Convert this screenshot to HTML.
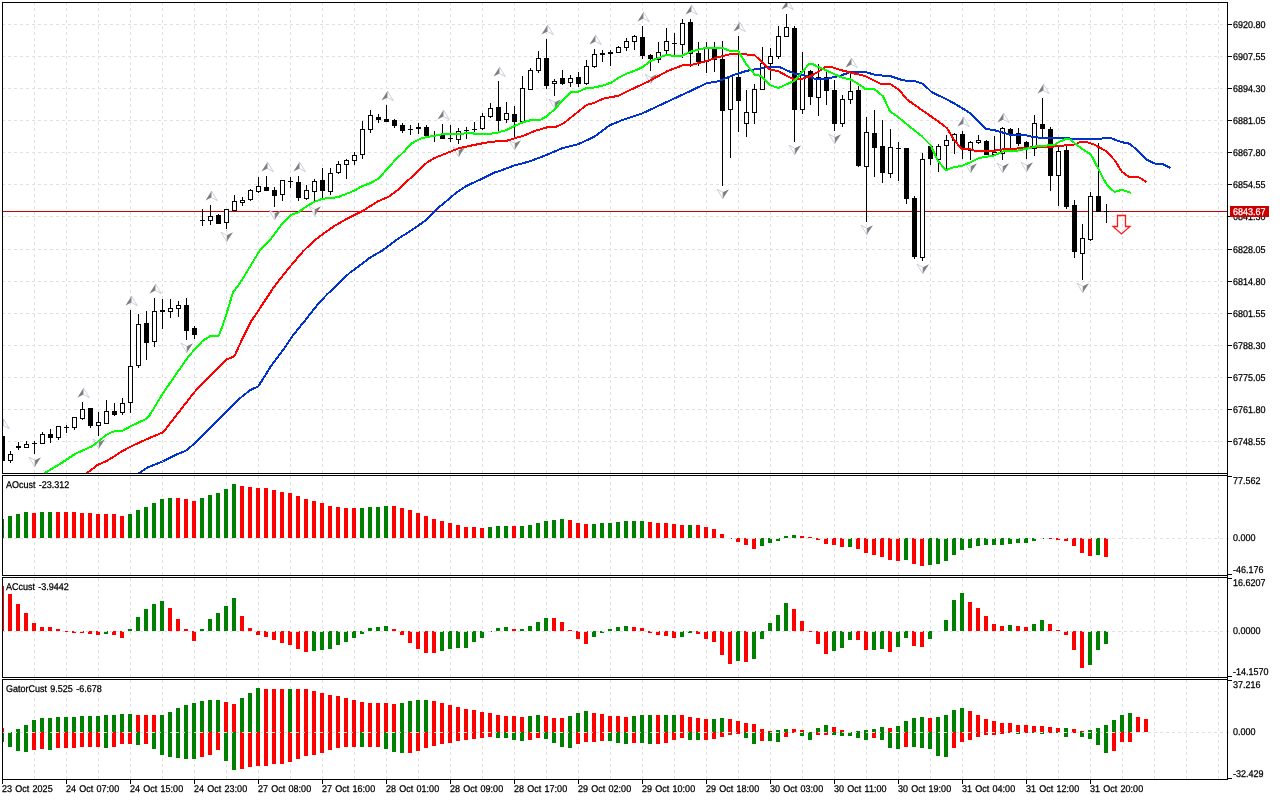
<!DOCTYPE html><html><head><meta charset="utf-8"><title>Chart</title><style>html,body{margin:0;padding:0;background:#fff;overflow:hidden}svg{display:block}text{font-family:"Liberation Sans",Arial,sans-serif;font-size:9px;fill:#000;stroke:#000;stroke-width:0.25px;word-spacing:0.8px;text-rendering:geometricPrecision}</style></head><body>
<svg width="1280" height="800" viewBox="0 0 1280 800">
<rect width="1280" height="800" fill="#fff"/>
<g shape-rendering="crispEdges" stroke="#e1e1e1" stroke-width="1" stroke-dasharray="3 3" fill="none">
<path d="M34.5 3V473" stroke-dashoffset="1"/>
<path d="M66.5 3V473" stroke-dashoffset="1"/>
<path d="M98.5 3V473" stroke-dashoffset="1"/>
<path d="M130.5 3V473" stroke-dashoffset="1"/>
<path d="M162.5 3V473" stroke-dashoffset="1"/>
<path d="M194.5 3V473" stroke-dashoffset="1"/>
<path d="M226.5 3V473" stroke-dashoffset="1"/>
<path d="M258.5 3V473" stroke-dashoffset="1"/>
<path d="M290.5 3V473" stroke-dashoffset="1"/>
<path d="M322.5 3V473" stroke-dashoffset="1"/>
<path d="M354.5 3V473" stroke-dashoffset="1"/>
<path d="M386.5 3V473" stroke-dashoffset="1"/>
<path d="M418.5 3V473" stroke-dashoffset="1"/>
<path d="M450.5 3V473" stroke-dashoffset="1"/>
<path d="M482.5 3V473" stroke-dashoffset="1"/>
<path d="M514.5 3V473" stroke-dashoffset="1"/>
<path d="M546.5 3V473" stroke-dashoffset="1"/>
<path d="M578.5 3V473" stroke-dashoffset="1"/>
<path d="M610.5 3V473" stroke-dashoffset="1"/>
<path d="M642.5 3V473" stroke-dashoffset="1"/>
<path d="M674.5 3V473" stroke-dashoffset="1"/>
<path d="M706.5 3V473" stroke-dashoffset="1"/>
<path d="M738.5 3V473" stroke-dashoffset="1"/>
<path d="M770.5 3V473" stroke-dashoffset="1"/>
<path d="M802.5 3V473" stroke-dashoffset="1"/>
<path d="M834.5 3V473" stroke-dashoffset="1"/>
<path d="M866.5 3V473" stroke-dashoffset="1"/>
<path d="M898.5 3V473" stroke-dashoffset="1"/>
<path d="M930.5 3V473" stroke-dashoffset="1"/>
<path d="M962.5 3V473" stroke-dashoffset="1"/>
<path d="M994.5 3V473" stroke-dashoffset="1"/>
<path d="M1026.5 3V473" stroke-dashoffset="1"/>
<path d="M1058.5 3V473" stroke-dashoffset="1"/>
<path d="M1090.5 3V473" stroke-dashoffset="1"/>
<path d="M1122.5 3V473" stroke-dashoffset="1"/>
<path d="M1154.5 3V473" stroke-dashoffset="1"/>
<path d="M1186.5 3V473" stroke-dashoffset="1"/>
<path d="M1218.5 3V473" stroke-dashoffset="1"/>
<path d="M34.5 476V575" stroke-dashoffset="0"/>
<path d="M66.5 476V575" stroke-dashoffset="0"/>
<path d="M98.5 476V575" stroke-dashoffset="0"/>
<path d="M130.5 476V575" stroke-dashoffset="0"/>
<path d="M162.5 476V575" stroke-dashoffset="0"/>
<path d="M194.5 476V575" stroke-dashoffset="0"/>
<path d="M226.5 476V575" stroke-dashoffset="0"/>
<path d="M258.5 476V575" stroke-dashoffset="0"/>
<path d="M290.5 476V575" stroke-dashoffset="0"/>
<path d="M322.5 476V575" stroke-dashoffset="0"/>
<path d="M354.5 476V575" stroke-dashoffset="0"/>
<path d="M386.5 476V575" stroke-dashoffset="0"/>
<path d="M418.5 476V575" stroke-dashoffset="0"/>
<path d="M450.5 476V575" stroke-dashoffset="0"/>
<path d="M482.5 476V575" stroke-dashoffset="0"/>
<path d="M514.5 476V575" stroke-dashoffset="0"/>
<path d="M546.5 476V575" stroke-dashoffset="0"/>
<path d="M578.5 476V575" stroke-dashoffset="0"/>
<path d="M610.5 476V575" stroke-dashoffset="0"/>
<path d="M642.5 476V575" stroke-dashoffset="0"/>
<path d="M674.5 476V575" stroke-dashoffset="0"/>
<path d="M706.5 476V575" stroke-dashoffset="0"/>
<path d="M738.5 476V575" stroke-dashoffset="0"/>
<path d="M770.5 476V575" stroke-dashoffset="0"/>
<path d="M802.5 476V575" stroke-dashoffset="0"/>
<path d="M834.5 476V575" stroke-dashoffset="0"/>
<path d="M866.5 476V575" stroke-dashoffset="0"/>
<path d="M898.5 476V575" stroke-dashoffset="0"/>
<path d="M930.5 476V575" stroke-dashoffset="0"/>
<path d="M962.5 476V575" stroke-dashoffset="0"/>
<path d="M994.5 476V575" stroke-dashoffset="0"/>
<path d="M1026.5 476V575" stroke-dashoffset="0"/>
<path d="M1058.5 476V575" stroke-dashoffset="0"/>
<path d="M1090.5 476V575" stroke-dashoffset="0"/>
<path d="M1122.5 476V575" stroke-dashoffset="0"/>
<path d="M1154.5 476V575" stroke-dashoffset="0"/>
<path d="M1186.5 476V575" stroke-dashoffset="0"/>
<path d="M1218.5 476V575" stroke-dashoffset="0"/>
<path d="M34.5 578V677" stroke-dashoffset="0"/>
<path d="M66.5 578V677" stroke-dashoffset="0"/>
<path d="M98.5 578V677" stroke-dashoffset="0"/>
<path d="M130.5 578V677" stroke-dashoffset="0"/>
<path d="M162.5 578V677" stroke-dashoffset="0"/>
<path d="M194.5 578V677" stroke-dashoffset="0"/>
<path d="M226.5 578V677" stroke-dashoffset="0"/>
<path d="M258.5 578V677" stroke-dashoffset="0"/>
<path d="M290.5 578V677" stroke-dashoffset="0"/>
<path d="M322.5 578V677" stroke-dashoffset="0"/>
<path d="M354.5 578V677" stroke-dashoffset="0"/>
<path d="M386.5 578V677" stroke-dashoffset="0"/>
<path d="M418.5 578V677" stroke-dashoffset="0"/>
<path d="M450.5 578V677" stroke-dashoffset="0"/>
<path d="M482.5 578V677" stroke-dashoffset="0"/>
<path d="M514.5 578V677" stroke-dashoffset="0"/>
<path d="M546.5 578V677" stroke-dashoffset="0"/>
<path d="M578.5 578V677" stroke-dashoffset="0"/>
<path d="M610.5 578V677" stroke-dashoffset="0"/>
<path d="M642.5 578V677" stroke-dashoffset="0"/>
<path d="M674.5 578V677" stroke-dashoffset="0"/>
<path d="M706.5 578V677" stroke-dashoffset="0"/>
<path d="M738.5 578V677" stroke-dashoffset="0"/>
<path d="M770.5 578V677" stroke-dashoffset="0"/>
<path d="M802.5 578V677" stroke-dashoffset="0"/>
<path d="M834.5 578V677" stroke-dashoffset="0"/>
<path d="M866.5 578V677" stroke-dashoffset="0"/>
<path d="M898.5 578V677" stroke-dashoffset="0"/>
<path d="M930.5 578V677" stroke-dashoffset="0"/>
<path d="M962.5 578V677" stroke-dashoffset="0"/>
<path d="M994.5 578V677" stroke-dashoffset="0"/>
<path d="M1026.5 578V677" stroke-dashoffset="0"/>
<path d="M1058.5 578V677" stroke-dashoffset="0"/>
<path d="M1090.5 578V677" stroke-dashoffset="0"/>
<path d="M1122.5 578V677" stroke-dashoffset="0"/>
<path d="M1154.5 578V677" stroke-dashoffset="0"/>
<path d="M1186.5 578V677" stroke-dashoffset="0"/>
<path d="M1218.5 578V677" stroke-dashoffset="0"/>
<path d="M34.5 680V779" stroke-dashoffset="0"/>
<path d="M66.5 680V779" stroke-dashoffset="0"/>
<path d="M98.5 680V779" stroke-dashoffset="0"/>
<path d="M130.5 680V779" stroke-dashoffset="0"/>
<path d="M162.5 680V779" stroke-dashoffset="0"/>
<path d="M194.5 680V779" stroke-dashoffset="0"/>
<path d="M226.5 680V779" stroke-dashoffset="0"/>
<path d="M258.5 680V779" stroke-dashoffset="0"/>
<path d="M290.5 680V779" stroke-dashoffset="0"/>
<path d="M322.5 680V779" stroke-dashoffset="0"/>
<path d="M354.5 680V779" stroke-dashoffset="0"/>
<path d="M386.5 680V779" stroke-dashoffset="0"/>
<path d="M418.5 680V779" stroke-dashoffset="0"/>
<path d="M450.5 680V779" stroke-dashoffset="0"/>
<path d="M482.5 680V779" stroke-dashoffset="0"/>
<path d="M514.5 680V779" stroke-dashoffset="0"/>
<path d="M546.5 680V779" stroke-dashoffset="0"/>
<path d="M578.5 680V779" stroke-dashoffset="0"/>
<path d="M610.5 680V779" stroke-dashoffset="0"/>
<path d="M642.5 680V779" stroke-dashoffset="0"/>
<path d="M674.5 680V779" stroke-dashoffset="0"/>
<path d="M706.5 680V779" stroke-dashoffset="0"/>
<path d="M738.5 680V779" stroke-dashoffset="0"/>
<path d="M770.5 680V779" stroke-dashoffset="0"/>
<path d="M802.5 680V779" stroke-dashoffset="0"/>
<path d="M834.5 680V779" stroke-dashoffset="0"/>
<path d="M866.5 680V779" stroke-dashoffset="0"/>
<path d="M898.5 680V779" stroke-dashoffset="0"/>
<path d="M930.5 680V779" stroke-dashoffset="0"/>
<path d="M962.5 680V779" stroke-dashoffset="0"/>
<path d="M994.5 680V779" stroke-dashoffset="0"/>
<path d="M1026.5 680V779" stroke-dashoffset="0"/>
<path d="M1058.5 680V779" stroke-dashoffset="0"/>
<path d="M1090.5 680V779" stroke-dashoffset="0"/>
<path d="M1122.5 680V779" stroke-dashoffset="0"/>
<path d="M1154.5 680V779" stroke-dashoffset="0"/>
<path d="M1186.5 680V779" stroke-dashoffset="0"/>
<path d="M1218.5 680V779" stroke-dashoffset="0"/>
<path d="M3 24.5H1227" stroke-dashoffset="1"/>
<path d="M3 56.5H1227" stroke-dashoffset="1"/>
<path d="M3 88.5H1227" stroke-dashoffset="1"/>
<path d="M3 120.5H1227" stroke-dashoffset="1"/>
<path d="M3 152.5H1227" stroke-dashoffset="1"/>
<path d="M3 184.5H1227" stroke-dashoffset="1"/>
<path d="M3 216.5H1227" stroke-dashoffset="1"/>
<path d="M3 249.5H1227" stroke-dashoffset="1"/>
<path d="M3 281.5H1227" stroke-dashoffset="1"/>
<path d="M3 313.5H1227" stroke-dashoffset="1"/>
<path d="M3 345.5H1227" stroke-dashoffset="1"/>
<path d="M3 377.5H1227" stroke-dashoffset="1"/>
<path d="M3 409.5H1227" stroke-dashoffset="1"/>
<path d="M3 441.5H1227" stroke-dashoffset="1"/>
<path d="M3 538.5H1231" stroke-dashoffset="1"/>
<path d="M3 631.5H1231" stroke-dashoffset="1"/>
<path d="M3 732.5H1231" stroke-dashoffset="1"/>
</g>
<g shape-rendering="crispEdges">
<rect x="3" y="211" width="1224" height="1" fill="#c80000"/>
<clipPath id="cm"><rect x="3" y="3" width="1224" height="470"/></clipPath>
<g fill="#000" clip-path="url(#cm)">
<rect x="2" y="433" width="1" height="30"/>
<rect x="0" y="436" width="5" height="25"/>
<rect x="10" y="451" width="1" height="12"/>
<rect x="8" y="454" width="5" height="7"/>
<rect x="9" y="455" width="3" height="5" fill="#fff"/>
<rect x="18" y="442" width="1" height="8"/>
<rect x="16" y="446" width="5" height="2"/>
<rect x="26" y="441" width="1" height="7"/>
<rect x="24" y="444" width="5" height="4"/>
<rect x="25" y="445" width="3" height="2" fill="#fff"/>
<rect x="34" y="441" width="1" height="13"/>
<rect x="32" y="443" width="5" height="1"/>
<rect x="42" y="432" width="1" height="12"/>
<rect x="40" y="434" width="5" height="10"/>
<rect x="41" y="435" width="3" height="8" fill="#fff"/>
<rect x="50" y="429" width="1" height="14"/>
<rect x="48" y="434" width="5" height="4"/>
<rect x="58" y="426" width="1" height="14"/>
<rect x="56" y="426" width="5" height="12"/>
<rect x="57" y="427" width="3" height="10" fill="#fff"/>
<rect x="66" y="425" width="1" height="8"/>
<rect x="64" y="427" width="5" height="1"/>
<rect x="74" y="417" width="1" height="13"/>
<rect x="72" y="417" width="5" height="11"/>
<rect x="73" y="418" width="3" height="9" fill="#fff"/>
<rect x="82" y="402" width="1" height="18"/>
<rect x="80" y="409" width="5" height="10"/>
<rect x="81" y="410" width="3" height="8" fill="#fff"/>
<rect x="90" y="408" width="1" height="20"/>
<rect x="88" y="408" width="5" height="18"/>
<rect x="98" y="412" width="1" height="24"/>
<rect x="96" y="422" width="5" height="4"/>
<rect x="97" y="423" width="3" height="2" fill="#fff"/>
<rect x="106" y="400" width="1" height="24"/>
<rect x="104" y="411" width="5" height="13"/>
<rect x="105" y="412" width="3" height="11" fill="#fff"/>
<rect x="114" y="403" width="1" height="13"/>
<rect x="112" y="411" width="5" height="4"/>
<rect x="122" y="398" width="1" height="17"/>
<rect x="120" y="403" width="5" height="10"/>
<rect x="121" y="404" width="3" height="8" fill="#fff"/>
<rect x="130" y="310" width="1" height="103"/>
<rect x="128" y="366" width="5" height="37"/>
<rect x="129" y="367" width="3" height="35" fill="#fff"/>
<rect x="138" y="314" width="1" height="54"/>
<rect x="136" y="324" width="5" height="42"/>
<rect x="137" y="325" width="3" height="40" fill="#fff"/>
<rect x="146" y="311" width="1" height="49"/>
<rect x="144" y="323" width="5" height="20"/>
<rect x="154" y="298" width="1" height="49"/>
<rect x="152" y="311" width="5" height="31"/>
<rect x="153" y="312" width="3" height="29" fill="#fff"/>
<rect x="162" y="299" width="1" height="30"/>
<rect x="160" y="310" width="5" height="2"/>
<rect x="170" y="299" width="1" height="19"/>
<rect x="168" y="308" width="5" height="4"/>
<rect x="169" y="309" width="3" height="2" fill="#fff"/>
<rect x="178" y="301" width="1" height="16"/>
<rect x="176" y="305" width="5" height="4"/>
<rect x="177" y="306" width="3" height="2" fill="#fff"/>
<rect x="186" y="298" width="1" height="42"/>
<rect x="184" y="305" width="5" height="26"/>
<rect x="194" y="326" width="1" height="13"/>
<rect x="192" y="328" width="5" height="7"/>
<rect x="202" y="209" width="1" height="17"/>
<rect x="200" y="220" width="5" height="1"/>
<rect x="210" y="205" width="1" height="20"/>
<rect x="208" y="216" width="5" height="5"/>
<rect x="209" y="217" width="3" height="3" fill="#fff"/>
<rect x="218" y="214" width="1" height="10"/>
<rect x="216" y="215" width="5" height="9"/>
<rect x="226" y="209" width="1" height="20"/>
<rect x="224" y="209" width="5" height="14"/>
<rect x="225" y="210" width="3" height="12" fill="#fff"/>
<rect x="234" y="195" width="1" height="16"/>
<rect x="232" y="201" width="5" height="10"/>
<rect x="233" y="202" width="3" height="8" fill="#fff"/>
<rect x="242" y="197" width="1" height="9"/>
<rect x="240" y="200" width="5" height="3"/>
<rect x="241" y="201" width="3" height="1" fill="#fff"/>
<rect x="250" y="189" width="1" height="12"/>
<rect x="248" y="190" width="5" height="10"/>
<rect x="249" y="191" width="3" height="8" fill="#fff"/>
<rect x="258" y="177" width="1" height="16"/>
<rect x="256" y="186" width="5" height="6"/>
<rect x="257" y="187" width="3" height="4" fill="#fff"/>
<rect x="266" y="176" width="1" height="15"/>
<rect x="264" y="187" width="5" height="4"/>
<rect x="274" y="187" width="1" height="20"/>
<rect x="272" y="190" width="5" height="6"/>
<rect x="282" y="180" width="1" height="21"/>
<rect x="280" y="180" width="5" height="15"/>
<rect x="281" y="181" width="3" height="13" fill="#fff"/>
<rect x="290" y="177" width="1" height="11"/>
<rect x="288" y="181" width="5" height="1"/>
<rect x="298" y="176" width="1" height="25"/>
<rect x="296" y="182" width="5" height="16"/>
<rect x="306" y="185" width="1" height="15"/>
<rect x="304" y="190" width="5" height="9"/>
<rect x="305" y="191" width="3" height="7" fill="#fff"/>
<rect x="314" y="179" width="1" height="24"/>
<rect x="312" y="181" width="5" height="11"/>
<rect x="313" y="182" width="3" height="9" fill="#fff"/>
<rect x="322" y="168" width="1" height="31"/>
<rect x="320" y="180" width="5" height="11"/>
<rect x="330" y="168" width="1" height="27"/>
<rect x="328" y="173" width="5" height="19"/>
<rect x="329" y="174" width="3" height="17" fill="#fff"/>
<rect x="338" y="161" width="1" height="13"/>
<rect x="336" y="164" width="5" height="9"/>
<rect x="337" y="165" width="3" height="7" fill="#fff"/>
<rect x="346" y="159" width="1" height="20"/>
<rect x="344" y="160" width="5" height="5"/>
<rect x="345" y="161" width="3" height="3" fill="#fff"/>
<rect x="354" y="152" width="1" height="13"/>
<rect x="352" y="155" width="5" height="6"/>
<rect x="353" y="156" width="3" height="4" fill="#fff"/>
<rect x="362" y="121" width="1" height="38"/>
<rect x="360" y="129" width="5" height="26"/>
<rect x="361" y="130" width="3" height="24" fill="#fff"/>
<rect x="370" y="110" width="1" height="23"/>
<rect x="368" y="115" width="5" height="15"/>
<rect x="369" y="116" width="3" height="13" fill="#fff"/>
<rect x="378" y="114" width="1" height="9"/>
<rect x="376" y="117" width="5" height="3"/>
<rect x="386" y="105" width="1" height="17"/>
<rect x="384" y="119" width="5" height="3"/>
<rect x="394" y="119" width="1" height="9"/>
<rect x="392" y="120" width="5" height="6"/>
<rect x="402" y="123" width="1" height="10"/>
<rect x="400" y="125" width="5" height="6"/>
<rect x="410" y="125" width="1" height="10"/>
<rect x="408" y="129" width="5" height="1"/>
<rect x="418" y="123" width="1" height="11"/>
<rect x="416" y="127" width="5" height="2"/>
<rect x="426" y="125" width="1" height="12"/>
<rect x="424" y="127" width="5" height="9"/>
<rect x="434" y="131" width="1" height="11"/>
<rect x="432" y="135" width="5" height="1"/>
<rect x="442" y="124" width="1" height="15"/>
<rect x="440" y="135" width="5" height="4"/>
<rect x="450" y="125" width="1" height="17"/>
<rect x="448" y="138" width="5" height="1"/>
<rect x="458" y="128" width="1" height="16"/>
<rect x="456" y="131" width="5" height="9"/>
<rect x="457" y="132" width="3" height="7" fill="#fff"/>
<rect x="466" y="127" width="1" height="12"/>
<rect x="464" y="130" width="5" height="1"/>
<rect x="474" y="122" width="1" height="10"/>
<rect x="472" y="129" width="5" height="1"/>
<rect x="482" y="113" width="1" height="17"/>
<rect x="480" y="116" width="5" height="13"/>
<rect x="481" y="117" width="3" height="11" fill="#fff"/>
<rect x="490" y="103" width="1" height="15"/>
<rect x="488" y="108" width="5" height="9"/>
<rect x="489" y="109" width="3" height="7" fill="#fff"/>
<rect x="498" y="81" width="1" height="51"/>
<rect x="496" y="107" width="5" height="14"/>
<rect x="506" y="102" width="1" height="21"/>
<rect x="504" y="113" width="5" height="7"/>
<rect x="505" y="114" width="3" height="5" fill="#fff"/>
<rect x="514" y="106" width="1" height="31"/>
<rect x="512" y="114" width="5" height="8"/>
<rect x="522" y="76" width="1" height="46"/>
<rect x="520" y="88" width="5" height="34"/>
<rect x="521" y="89" width="3" height="32" fill="#fff"/>
<rect x="530" y="68" width="1" height="22"/>
<rect x="528" y="70" width="5" height="20"/>
<rect x="529" y="71" width="3" height="18" fill="#fff"/>
<rect x="538" y="51" width="1" height="22"/>
<rect x="536" y="58" width="5" height="13"/>
<rect x="537" y="59" width="3" height="11" fill="#fff"/>
<rect x="546" y="39" width="1" height="50"/>
<rect x="544" y="58" width="5" height="28"/>
<rect x="554" y="79" width="1" height="17"/>
<rect x="552" y="81" width="5" height="3"/>
<rect x="553" y="82" width="3" height="1" fill="#fff"/>
<rect x="562" y="70" width="1" height="15"/>
<rect x="560" y="78" width="5" height="6"/>
<rect x="570" y="75" width="1" height="12"/>
<rect x="568" y="78" width="5" height="5"/>
<rect x="569" y="79" width="3" height="3" fill="#fff"/>
<rect x="578" y="72" width="1" height="15"/>
<rect x="576" y="77" width="5" height="7"/>
<rect x="586" y="60" width="1" height="25"/>
<rect x="584" y="66" width="5" height="18"/>
<rect x="585" y="67" width="3" height="16" fill="#fff"/>
<rect x="594" y="49" width="1" height="19"/>
<rect x="592" y="54" width="5" height="13"/>
<rect x="593" y="55" width="3" height="11" fill="#fff"/>
<rect x="602" y="50" width="1" height="12"/>
<rect x="600" y="53" width="5" height="2"/>
<rect x="610" y="50" width="1" height="16"/>
<rect x="608" y="52" width="5" height="2"/>
<rect x="618" y="46" width="1" height="7"/>
<rect x="616" y="47" width="5" height="6"/>
<rect x="617" y="48" width="3" height="4" fill="#fff"/>
<rect x="626" y="38" width="1" height="13"/>
<rect x="624" y="41" width="5" height="7"/>
<rect x="625" y="42" width="3" height="5" fill="#fff"/>
<rect x="634" y="35" width="1" height="15"/>
<rect x="632" y="36" width="5" height="6"/>
<rect x="633" y="37" width="3" height="4" fill="#fff"/>
<rect x="642" y="26" width="1" height="33"/>
<rect x="640" y="37" width="5" height="19"/>
<rect x="650" y="54" width="1" height="17"/>
<rect x="648" y="55" width="5" height="4"/>
<rect x="658" y="42" width="1" height="21"/>
<rect x="656" y="52" width="5" height="8"/>
<rect x="657" y="53" width="3" height="6" fill="#fff"/>
<rect x="666" y="28" width="1" height="26"/>
<rect x="664" y="41" width="5" height="10"/>
<rect x="665" y="42" width="3" height="8" fill="#fff"/>
<rect x="674" y="33" width="1" height="23"/>
<rect x="672" y="43" width="5" height="1"/>
<rect x="682" y="19" width="1" height="39"/>
<rect x="680" y="23" width="5" height="22"/>
<rect x="681" y="24" width="3" height="20" fill="#fff"/>
<rect x="690" y="19" width="1" height="48"/>
<rect x="688" y="22" width="5" height="32"/>
<rect x="698" y="42" width="1" height="24"/>
<rect x="696" y="53" width="5" height="9"/>
<rect x="706" y="42" width="1" height="31"/>
<rect x="704" y="48" width="5" height="14"/>
<rect x="705" y="49" width="3" height="12" fill="#fff"/>
<rect x="714" y="42" width="1" height="30"/>
<rect x="712" y="49" width="5" height="11"/>
<rect x="722" y="41" width="1" height="145"/>
<rect x="720" y="59" width="5" height="52"/>
<rect x="730" y="76" width="1" height="82"/>
<rect x="728" y="76" width="5" height="34"/>
<rect x="729" y="77" width="3" height="32" fill="#fff"/>
<rect x="738" y="36" width="1" height="96"/>
<rect x="736" y="77" width="5" height="24"/>
<rect x="746" y="90" width="1" height="47"/>
<rect x="744" y="112" width="5" height="12"/>
<rect x="745" y="113" width="3" height="10" fill="#fff"/>
<rect x="754" y="84" width="1" height="40"/>
<rect x="752" y="89" width="5" height="24"/>
<rect x="753" y="90" width="3" height="22" fill="#fff"/>
<rect x="762" y="47" width="1" height="43"/>
<rect x="760" y="63" width="5" height="27"/>
<rect x="761" y="64" width="3" height="25" fill="#fff"/>
<rect x="770" y="48" width="1" height="32"/>
<rect x="768" y="56" width="5" height="8"/>
<rect x="769" y="57" width="3" height="6" fill="#fff"/>
<rect x="778" y="26" width="1" height="33"/>
<rect x="776" y="36" width="5" height="21"/>
<rect x="777" y="37" width="3" height="19" fill="#fff"/>
<rect x="786" y="14" width="1" height="23"/>
<rect x="784" y="27" width="5" height="10"/>
<rect x="785" y="28" width="3" height="8" fill="#fff"/>
<rect x="794" y="26" width="1" height="116"/>
<rect x="792" y="28" width="5" height="82"/>
<rect x="802" y="52" width="1" height="62"/>
<rect x="800" y="71" width="5" height="39"/>
<rect x="801" y="72" width="3" height="37" fill="#fff"/>
<rect x="810" y="70" width="1" height="35"/>
<rect x="808" y="71" width="5" height="26"/>
<rect x="818" y="64" width="1" height="52"/>
<rect x="816" y="77" width="5" height="21"/>
<rect x="817" y="78" width="3" height="19" fill="#fff"/>
<rect x="826" y="69" width="1" height="36"/>
<rect x="824" y="77" width="5" height="14"/>
<rect x="834" y="80" width="1" height="51"/>
<rect x="832" y="90" width="5" height="34"/>
<rect x="842" y="95" width="1" height="32"/>
<rect x="840" y="99" width="5" height="25"/>
<rect x="841" y="100" width="3" height="23" fill="#fff"/>
<rect x="850" y="72" width="1" height="32"/>
<rect x="848" y="91" width="5" height="9"/>
<rect x="849" y="92" width="3" height="7" fill="#fff"/>
<rect x="858" y="86" width="1" height="81"/>
<rect x="856" y="90" width="5" height="76"/>
<rect x="866" y="117" width="1" height="105"/>
<rect x="864" y="132" width="5" height="35"/>
<rect x="865" y="133" width="3" height="33" fill="#fff"/>
<rect x="874" y="110" width="1" height="67"/>
<rect x="872" y="133" width="5" height="15"/>
<rect x="882" y="120" width="1" height="63"/>
<rect x="880" y="146" width="5" height="27"/>
<rect x="890" y="129" width="1" height="49"/>
<rect x="888" y="147" width="5" height="27"/>
<rect x="889" y="148" width="3" height="25" fill="#fff"/>
<rect x="898" y="142" width="1" height="39"/>
<rect x="896" y="148" width="5" height="1"/>
<rect x="906" y="148" width="1" height="56"/>
<rect x="904" y="148" width="5" height="51"/>
<rect x="914" y="196" width="1" height="63"/>
<rect x="912" y="198" width="5" height="59"/>
<rect x="922" y="153" width="1" height="108"/>
<rect x="920" y="159" width="5" height="99"/>
<rect x="921" y="160" width="3" height="97" fill="#fff"/>
<rect x="930" y="146" width="1" height="19"/>
<rect x="928" y="146" width="5" height="13"/>
<rect x="938" y="144" width="1" height="28"/>
<rect x="936" y="146" width="5" height="14"/>
<rect x="937" y="147" width="3" height="12" fill="#fff"/>
<rect x="946" y="135" width="1" height="34"/>
<rect x="944" y="140" width="5" height="6"/>
<rect x="945" y="141" width="3" height="4" fill="#fff"/>
<rect x="954" y="133" width="1" height="21"/>
<rect x="952" y="134" width="5" height="7"/>
<rect x="953" y="135" width="3" height="5" fill="#fff"/>
<rect x="962" y="131" width="1" height="28"/>
<rect x="960" y="134" width="5" height="15"/>
<rect x="970" y="141" width="1" height="19"/>
<rect x="968" y="142" width="5" height="9"/>
<rect x="969" y="143" width="3" height="7" fill="#fff"/>
<rect x="978" y="135" width="1" height="9"/>
<rect x="976" y="140" width="5" height="3"/>
<rect x="977" y="141" width="3" height="1" fill="#fff"/>
<rect x="986" y="140" width="1" height="15"/>
<rect x="984" y="141" width="5" height="14"/>
<rect x="994" y="136" width="1" height="20"/>
<rect x="992" y="152" width="5" height="3"/>
<rect x="993" y="153" width="3" height="1" fill="#fff"/>
<rect x="1002" y="127" width="1" height="33"/>
<rect x="1000" y="128" width="5" height="26"/>
<rect x="1001" y="129" width="3" height="24" fill="#fff"/>
<rect x="1010" y="128" width="1" height="21"/>
<rect x="1008" y="129" width="5" height="5"/>
<rect x="1018" y="128" width="1" height="18"/>
<rect x="1016" y="133" width="5" height="11"/>
<rect x="1026" y="141" width="1" height="18"/>
<rect x="1024" y="142" width="5" height="6"/>
<rect x="1034" y="115" width="1" height="41"/>
<rect x="1032" y="123" width="5" height="26"/>
<rect x="1033" y="124" width="3" height="24" fill="#fff"/>
<rect x="1042" y="98" width="1" height="39"/>
<rect x="1040" y="124" width="5" height="5"/>
<rect x="1050" y="127" width="1" height="64"/>
<rect x="1048" y="129" width="5" height="47"/>
<rect x="1058" y="147" width="1" height="59"/>
<rect x="1056" y="151" width="5" height="25"/>
<rect x="1057" y="152" width="3" height="23" fill="#fff"/>
<rect x="1066" y="144" width="1" height="65"/>
<rect x="1064" y="150" width="5" height="57"/>
<rect x="1074" y="200" width="1" height="58"/>
<rect x="1072" y="205" width="5" height="47"/>
<rect x="1082" y="224" width="1" height="56"/>
<rect x="1080" y="238" width="5" height="16"/>
<rect x="1081" y="239" width="3" height="14" fill="#fff"/>
<rect x="1090" y="192" width="1" height="49"/>
<rect x="1088" y="196" width="5" height="44"/>
<rect x="1089" y="197" width="3" height="42" fill="#fff"/>
<rect x="1098" y="143" width="1" height="69"/>
<rect x="1096" y="196" width="5" height="16"/>
<rect x="1106" y="204" width="1" height="19"/>
<rect x="1104" y="211" width="5" height="1"/>
</g>
</g>
<g clip-path="url(#cm)">
<path d="M3.5 419L-2.5 428.6L3.5 425.6Z" fill="#7f7f7f"/><path d="M3.5 419L9.3 428.6L3.5 425.6Z" fill="#fff" stroke="#aab0c6" stroke-width="0.6"/>
<path d="M83.5 388L77.5 397.6L83.5 394.6Z" fill="#7f7f7f"/><path d="M83.5 388L89.3 397.6L83.5 394.6Z" fill="#fff" stroke="#aab0c6" stroke-width="0.6"/>
<path d="M131.5 296L125.5 305.6L131.5 302.6Z" fill="#7f7f7f"/><path d="M131.5 296L137.3 305.6L131.5 302.6Z" fill="#fff" stroke="#aab0c6" stroke-width="0.6"/>
<path d="M155.5 284L149.5 293.6L155.5 290.6Z" fill="#7f7f7f"/><path d="M155.5 284L161.3 293.6L155.5 290.6Z" fill="#fff" stroke="#aab0c6" stroke-width="0.6"/>
<path d="M211.5 191L205.5 200.6L211.5 197.6Z" fill="#7f7f7f"/><path d="M211.5 191L217.3 200.6L211.5 197.6Z" fill="#fff" stroke="#aab0c6" stroke-width="0.6"/>
<path d="M267.5 162L261.5 171.6L267.5 168.6Z" fill="#7f7f7f"/><path d="M267.5 162L273.3 171.6L267.5 168.6Z" fill="#fff" stroke="#aab0c6" stroke-width="0.6"/>
<path d="M299.5 162L293.5 171.6L299.5 168.6Z" fill="#7f7f7f"/><path d="M299.5 162L305.3 171.6L299.5 168.6Z" fill="#fff" stroke="#aab0c6" stroke-width="0.6"/>
<path d="M387.5 91L381.5 100.6L387.5 97.6Z" fill="#7f7f7f"/><path d="M387.5 91L393.3 100.6L387.5 97.6Z" fill="#fff" stroke="#aab0c6" stroke-width="0.6"/>
<path d="M443.5 110L437.5 119.6L443.5 116.6Z" fill="#7f7f7f"/><path d="M443.5 110L449.3 119.6L443.5 116.6Z" fill="#fff" stroke="#aab0c6" stroke-width="0.6"/>
<path d="M499.5 67L493.5 76.6L499.5 73.6Z" fill="#7f7f7f"/><path d="M499.5 67L505.3 76.6L499.5 73.6Z" fill="#fff" stroke="#aab0c6" stroke-width="0.6"/>
<path d="M547.5 25L541.5 34.6L547.5 31.6Z" fill="#7f7f7f"/><path d="M547.5 25L553.3 34.6L547.5 31.6Z" fill="#fff" stroke="#aab0c6" stroke-width="0.6"/>
<path d="M595.5 35L589.5 44.6L595.5 41.6Z" fill="#7f7f7f"/><path d="M595.5 35L601.3 44.6L595.5 41.6Z" fill="#fff" stroke="#aab0c6" stroke-width="0.6"/>
<path d="M643.5 12L637.5 21.6L643.5 18.6Z" fill="#7f7f7f"/><path d="M643.5 12L649.3 21.6L643.5 18.6Z" fill="#fff" stroke="#aab0c6" stroke-width="0.6"/>
<path d="M691.5 5L685.5 14.6L691.5 11.6Z" fill="#7f7f7f"/><path d="M691.5 5L697.3 14.6L691.5 11.6Z" fill="#fff" stroke="#aab0c6" stroke-width="0.6"/>
<path d="M739.5 22L733.5 31.6L739.5 28.6Z" fill="#7f7f7f"/><path d="M739.5 22L745.3 31.6L739.5 28.6Z" fill="#fff" stroke="#aab0c6" stroke-width="0.6"/>
<path d="M787.5 0L781.5 9.6L787.5 6.6Z" fill="#7f7f7f"/><path d="M787.5 0L793.3 9.6L787.5 6.6Z" fill="#fff" stroke="#aab0c6" stroke-width="0.6"/>
<path d="M851.5 58L845.5 67.6L851.5 64.6Z" fill="#7f7f7f"/><path d="M851.5 58L857.3 67.6L851.5 64.6Z" fill="#fff" stroke="#aab0c6" stroke-width="0.6"/>
<path d="M963.5 117L957.5 126.6L963.5 123.6Z" fill="#7f7f7f"/><path d="M963.5 117L969.3 126.6L963.5 123.6Z" fill="#fff" stroke="#aab0c6" stroke-width="0.6"/>
<path d="M1003.5 113L997.5 122.6L1003.5 119.6Z" fill="#7f7f7f"/><path d="M1003.5 113L1009.3 122.6L1003.5 119.6Z" fill="#fff" stroke="#aab0c6" stroke-width="0.6"/>
<path d="M1043.5 84L1037.5 93.6L1043.5 90.6Z" fill="#7f7f7f"/><path d="M1043.5 84L1049.3 93.6L1043.5 90.6Z" fill="#fff" stroke="#aab0c6" stroke-width="0.6"/>
<path d="M34.8 466.8L41.0 457.2L34.8 460.2Z" fill="#7f7f7f"/><path d="M34.8 466.8L28.999999999999996 457.2L34.8 460.2Z" fill="#fff" stroke="#aab0c6" stroke-width="0.6"/>
<path d="M98.8 448.8L105.0 439.2L98.8 442.2Z" fill="#7f7f7f"/><path d="M98.8 448.8L93.0 439.2L98.8 442.2Z" fill="#fff" stroke="#aab0c6" stroke-width="0.6"/>
<path d="M186.8 352.8L193.0 343.2L186.8 346.2Z" fill="#7f7f7f"/><path d="M186.8 352.8L181.0 343.2L186.8 346.2Z" fill="#fff" stroke="#aab0c6" stroke-width="0.6"/>
<path d="M226.8 241.8L233.0 232.20000000000002L226.8 235.20000000000002Z" fill="#7f7f7f"/><path d="M226.8 241.8L221.0 232.20000000000002L226.8 235.20000000000002Z" fill="#fff" stroke="#aab0c6" stroke-width="0.6"/>
<path d="M274.8 219.8L281.0 210.20000000000002L274.8 213.20000000000002Z" fill="#7f7f7f"/><path d="M274.8 219.8L269.0 210.20000000000002L274.8 213.20000000000002Z" fill="#fff" stroke="#aab0c6" stroke-width="0.6"/>
<path d="M314.8 215.8L321.0 206.20000000000002L314.8 209.20000000000002Z" fill="#7f7f7f"/><path d="M314.8 215.8L309.0 206.20000000000002L314.8 209.20000000000002Z" fill="#fff" stroke="#aab0c6" stroke-width="0.6"/>
<path d="M458.8 156.8L465.0 147.20000000000002L458.8 150.20000000000002Z" fill="#7f7f7f"/><path d="M458.8 156.8L453.0 147.20000000000002L458.8 150.20000000000002Z" fill="#fff" stroke="#aab0c6" stroke-width="0.6"/>
<path d="M514.8 149.8L521.0 140.20000000000002L514.8 143.20000000000002Z" fill="#7f7f7f"/><path d="M514.8 149.8L508.99999999999994 140.20000000000002L514.8 143.20000000000002Z" fill="#fff" stroke="#aab0c6" stroke-width="0.6"/>
<path d="M554.8 108.8L561.0 99.2L554.8 102.2Z" fill="#7f7f7f"/><path d="M554.8 108.8L549.0 99.2L554.8 102.2Z" fill="#fff" stroke="#aab0c6" stroke-width="0.6"/>
<path d="M650.8 83.8L657.0 74.2L650.8 77.2Z" fill="#7f7f7f"/><path d="M650.8 83.8L645.0 74.2L650.8 77.2Z" fill="#fff" stroke="#aab0c6" stroke-width="0.6"/>
<path d="M722.8 198.8L729.0 189.20000000000002L722.8 192.20000000000002Z" fill="#7f7f7f"/><path d="M722.8 198.8L717.0 189.20000000000002L722.8 192.20000000000002Z" fill="#fff" stroke="#aab0c6" stroke-width="0.6"/>
<path d="M794.8 154.8L801.0 145.20000000000002L794.8 148.20000000000002Z" fill="#7f7f7f"/><path d="M794.8 154.8L789.0 145.20000000000002L794.8 148.20000000000002Z" fill="#fff" stroke="#aab0c6" stroke-width="0.6"/>
<path d="M834.8 143.8L841.0 134.20000000000002L834.8 137.20000000000002Z" fill="#7f7f7f"/><path d="M834.8 143.8L829.0 134.20000000000002L834.8 137.20000000000002Z" fill="#fff" stroke="#aab0c6" stroke-width="0.6"/>
<path d="M866.8 234.8L873.0 225.20000000000002L866.8 228.20000000000002Z" fill="#7f7f7f"/><path d="M866.8 234.8L861.0 225.20000000000002L866.8 228.20000000000002Z" fill="#fff" stroke="#aab0c6" stroke-width="0.6"/>
<path d="M922.8 273.8L929.0 264.2L922.8 267.2Z" fill="#7f7f7f"/><path d="M922.8 273.8L917.0 264.2L922.8 267.2Z" fill="#fff" stroke="#aab0c6" stroke-width="0.6"/>
<path d="M970.8 172.8L977.0 163.20000000000002L970.8 166.20000000000002Z" fill="#7f7f7f"/><path d="M970.8 172.8L965.0 163.20000000000002L970.8 166.20000000000002Z" fill="#fff" stroke="#aab0c6" stroke-width="0.6"/>
<path d="M1002.8 172.8L1009.0 163.20000000000002L1002.8 166.20000000000002Z" fill="#7f7f7f"/><path d="M1002.8 172.8L997.0 163.20000000000002L1002.8 166.20000000000002Z" fill="#fff" stroke="#aab0c6" stroke-width="0.6"/>
<path d="M1026.8 171.8L1033.0 162.20000000000002L1026.8 165.20000000000002Z" fill="#7f7f7f"/><path d="M1026.8 171.8L1021.0 162.20000000000002L1026.8 165.20000000000002Z" fill="#fff" stroke="#aab0c6" stroke-width="0.6"/>
<path d="M1082.8 292.8L1089.0 283.2L1082.8 286.2Z" fill="#7f7f7f"/><path d="M1082.8 292.8L1077.0 283.2L1082.8 286.2Z" fill="#fff" stroke="#aab0c6" stroke-width="0.6"/>
<polyline points="138.0,474.0 147.5,467.5 150.0,466.5 162.5,461.5 175.0,455.2 186.2,450.5 192.5,445.2 212.5,425.2 237.5,400.2 250.0,390.2 258.1,386.5 266.2,374.0 270.0,367.5 280.0,353.8 283.2,350.0 293.2,335.0 304.5,321.2 318.2,303.8 327.0,294.4 334.5,287.5 349.5,273.0 359.5,265.6 369.5,258.0 383.2,250.0 397.0,239.4 412.0,230.0 424.5,221.2 437.0,208.8 447.0,200.6 455.8,193.0 465.8,186.2 482.0,178.8 494.5,172.5 499.0,171.2 514.0,165.6 530.2,161.2 546.5,155.0 562.8,148.0 577.8,144.4 594.0,136.9 610.2,125.0 624.0,119.4 641.5,113.8 659.0,105.6 671.0,100.0 688.5,91.9 707.2,83.0 716.0,81.9 723.0,79.4 728.8,76.9 733.8,75.0 740.0,73.0 746.2,71.0 752.5,69.7 758.8,68.8 765.0,67.5 779.8,67.2 794.8,73.8 803.0,75.0 815.5,79.0 825.5,79.0 840.5,75.6 849.2,72.5 866.0,72.2 875.5,75.0 890.5,76.2 903.0,80.4 914.2,81.0 923.0,83.8 931.8,92.2 946.8,99.4 955.0,103.8 970.0,113.0 986.2,128.8 995.0,130.4 1010.0,134.6 1025.0,135.0 1032.5,137.0 1042.5,138.0 1058.8,138.4 1101.2,138.8 1103.8,137.8 1110.0,137.9 1122.0,142.2 1130.0,143.8 1139.5,152.5 1147.0,159.8 1154.5,163.5 1162.0,163.8 1170.5,167.9" fill="none" stroke="#0033cc" stroke-width="2" shape-rendering="crispEdges" stroke-linejoin="round"/>
<polyline points="85.6,474.0 97.5,465.0 107.5,460.6 120.0,452.5 130.0,446.9 145.0,440.0 150.0,437.8 161.9,432.8 166.2,428.4 181.2,409.0 193.8,392.8 205.6,380.0 220.0,365.6 226.9,359.4 234.4,356.2 241.2,341.2 251.2,321.2 258.8,310.0 262.0,305.0 274.5,286.2 288.2,268.8 303.2,251.2 315.0,240.0 325.0,232.5 335.0,225.6 347.0,218.8 363.2,210.6 378.2,201.2 388.2,197.0 397.0,190.6 414.5,174.4 427.0,162.5 434.5,158.0 447.0,153.0 459.5,148.0 472.0,145.4 484.5,142.9 497.0,141.2 506.5,140.9 515.2,138.0 524.0,135.6 534.0,131.2 546.5,127.5 555.9,126.9 564.0,123.0 574.0,115.0 586.5,105.0 594.0,103.0 602.8,98.8 619.0,95.6 631.5,89.4 649.0,81.2 667.2,71.2 683.5,65.0 692.2,64.8 706.0,61.2 716.0,57.8 731.0,54.0 738.5,54.4 754.0,54.6 769.8,69.4 778.5,71.2 787.2,76.2 793.5,79.0 801.0,79.0 810.5,76.2 819.2,71.2 825.5,66.9 829.9,66.6 840.5,70.0 850.5,72.5 865.5,76.2 880.5,83.8 889.9,83.8 899.2,90.0 906.8,99.4 921.8,110.0 938.0,121.2 946.8,128.0 954.2,140.0 961.2,148.5 970.0,149.0 975.0,151.0 992.5,151.0 1005.0,149.0 1017.5,148.5 1030.0,147.5 1050.0,146.9 1067.5,145.2 1075.0,144.4 1080.0,142.0 1086.2,141.9 1093.8,144.4 1105.8,151.0 1114.5,160.0 1122.0,171.9 1128.9,176.9 1138.2,176.9 1146.4,181.9" fill="none" stroke="#ff0000" stroke-width="2" shape-rendering="crispEdges" stroke-linejoin="round"/>
<polyline points="43.0,474.0 60.0,464.0 75.0,454.0 92.5,446.0 107.5,434.0 115.0,431.0 122.0,431.0 131.0,426.0 146.0,419.0 150.0,414.6 162.5,394.0 176.2,374.0 188.8,356.0 202.5,341.0 209.4,336.5 218.8,335.6 223.8,322.5 233.0,292.5 242.0,280.0 260.0,250.0 270.0,240.0 281.2,225.0 290.6,215.0 298.0,212.5 305.0,207.5 313.8,202.0 322.5,198.8 330.0,198.0 337.5,197.2 345.0,194.4 354.5,190.6 362.0,186.2 370.8,183.0 378.2,178.8 388.2,168.0 395.8,159.4 404.5,151.2 410.8,143.8 422.0,138.0 432.0,136.2 442.0,134.4 457.0,134.0 472.0,133.0 475.8,134.4 489.5,134.0 498.2,132.4 506.5,130.0 514.0,126.2 524.0,121.9 531.5,120.0 540.2,119.8 545.9,116.9 555.2,108.8 564.0,98.8 570.9,91.9 577.8,91.9 586.5,88.0 594.0,87.5 602.8,85.6 611.5,82.5 619.0,77.5 626.5,73.8 636.5,70.0 644.0,66.2 650.2,61.2 658.5,58.0 666.0,55.0 674.8,55.9 682.2,55.6 692.2,51.2 706.0,47.8 722.0,47.8 730.0,50.8 738.5,51.2 746.0,63.8 754.8,74.6 761.0,75.9 771.0,85.6 778.5,88.0 794.8,80.6 802.2,71.9 809.0,64.0 812.5,64.0 818.0,66.9 828.0,71.2 843.0,78.0 850.5,79.4 858.0,83.8 865.5,89.0 874.2,89.0 883.0,96.2 889.9,111.2 898.0,116.9 909.2,126.2 921.8,136.2 930.5,145.0 938.0,161.2 946.0,170.0 953.0,167.5 962.5,165.6 970.0,162.5 978.8,158.0 993.8,155.6 1003.8,151.2 1017.5,150.6 1030.0,148.0 1037.5,146.0 1053.8,145.2 1058.2,142.5 1065.8,138.8 1069.5,139.0 1077.0,145.0 1084.5,150.6 1090.8,154.4 1097.0,166.2 1102.0,176.2 1107.0,185.0 1114.5,191.9 1122.0,189.8 1130.8,192.9" fill="none" stroke="#00ff00" stroke-width="2" shape-rendering="crispEdges" stroke-linejoin="round"/>
<path d="M1117.5 215.5H1125.5V226.5H1130L1121.5 234L1113 226.5H1117.5Z" fill="none" stroke="#ff1a1a" stroke-width="1.3"/>
</g>
<g shape-rendering="crispEdges">
<rect x="3" y="519" width="1" height="19" fill="#008000"/>
<rect x="8" y="516" width="4" height="22" fill="#008000"/>
<rect x="16" y="514" width="4" height="24" fill="#008000"/>
<rect x="24" y="512" width="4" height="26" fill="#008000"/>
<rect x="32" y="513" width="4" height="25" fill="#ff0000"/>
<rect x="40" y="512" width="4" height="26" fill="#008000"/>
<rect x="48" y="512" width="4" height="26" fill="#008000"/>
<rect x="56" y="512" width="4" height="26" fill="#ff0000"/>
<rect x="64" y="512" width="4" height="26" fill="#ff0000"/>
<rect x="72" y="512" width="4" height="26" fill="#ff0000"/>
<rect x="80" y="513" width="4" height="25" fill="#ff0000"/>
<rect x="88" y="513" width="4" height="25" fill="#ff0000"/>
<rect x="96" y="514" width="4" height="24" fill="#ff0000"/>
<rect x="104" y="514" width="4" height="24" fill="#ff0000"/>
<rect x="112" y="514" width="4" height="24" fill="#ff0000"/>
<rect x="120" y="516" width="4" height="22" fill="#ff0000"/>
<rect x="128" y="514" width="4" height="24" fill="#008000"/>
<rect x="136" y="510" width="4" height="28" fill="#008000"/>
<rect x="144" y="507" width="4" height="31" fill="#008000"/>
<rect x="152" y="503" width="4" height="35" fill="#008000"/>
<rect x="160" y="499" width="4" height="39" fill="#008000"/>
<rect x="168" y="498" width="4" height="40" fill="#008000"/>
<rect x="176" y="498" width="4" height="40" fill="#ff0000"/>
<rect x="184" y="499" width="4" height="39" fill="#ff0000"/>
<rect x="192" y="501" width="4" height="37" fill="#ff0000"/>
<rect x="200" y="498" width="4" height="40" fill="#008000"/>
<rect x="208" y="495" width="4" height="43" fill="#008000"/>
<rect x="216" y="493" width="4" height="45" fill="#008000"/>
<rect x="224" y="489" width="4" height="49" fill="#008000"/>
<rect x="232" y="484" width="4" height="54" fill="#008000"/>
<rect x="240" y="486" width="4" height="52" fill="#ff0000"/>
<rect x="248" y="487" width="4" height="51" fill="#ff0000"/>
<rect x="256" y="488" width="4" height="50" fill="#ff0000"/>
<rect x="264" y="488" width="4" height="50" fill="#ff0000"/>
<rect x="272" y="490" width="4" height="48" fill="#ff0000"/>
<rect x="280" y="492" width="4" height="46" fill="#ff0000"/>
<rect x="288" y="493" width="4" height="45" fill="#ff0000"/>
<rect x="296" y="496" width="4" height="42" fill="#ff0000"/>
<rect x="304" y="499" width="4" height="39" fill="#ff0000"/>
<rect x="312" y="501" width="4" height="37" fill="#ff0000"/>
<rect x="320" y="503" width="4" height="35" fill="#ff0000"/>
<rect x="328" y="506" width="4" height="32" fill="#ff0000"/>
<rect x="336" y="507" width="4" height="31" fill="#ff0000"/>
<rect x="344" y="508" width="4" height="30" fill="#ff0000"/>
<rect x="352" y="508" width="4" height="30" fill="#ff0000"/>
<rect x="360" y="508" width="4" height="30" fill="#008000"/>
<rect x="368" y="507" width="4" height="31" fill="#008000"/>
<rect x="376" y="507" width="4" height="31" fill="#008000"/>
<rect x="384" y="506" width="4" height="32" fill="#008000"/>
<rect x="392" y="506" width="4" height="32" fill="#ff0000"/>
<rect x="400" y="508" width="4" height="30" fill="#ff0000"/>
<rect x="408" y="510" width="4" height="28" fill="#ff0000"/>
<rect x="416" y="513" width="4" height="25" fill="#ff0000"/>
<rect x="424" y="516" width="4" height="22" fill="#ff0000"/>
<rect x="432" y="519" width="4" height="19" fill="#ff0000"/>
<rect x="440" y="521" width="4" height="17" fill="#ff0000"/>
<rect x="448" y="523" width="4" height="15" fill="#ff0000"/>
<rect x="456" y="525" width="4" height="13" fill="#ff0000"/>
<rect x="464" y="527" width="4" height="11" fill="#ff0000"/>
<rect x="472" y="527" width="4" height="11" fill="#ff0000"/>
<rect x="480" y="528" width="4" height="10" fill="#ff0000"/>
<rect x="488" y="527" width="4" height="11" fill="#008000"/>
<rect x="496" y="526" width="4" height="12" fill="#008000"/>
<rect x="504" y="526" width="4" height="12" fill="#008000"/>
<rect x="512" y="526" width="4" height="12" fill="#ff0000"/>
<rect x="520" y="526" width="4" height="12" fill="#008000"/>
<rect x="528" y="525" width="4" height="13" fill="#008000"/>
<rect x="536" y="523" width="4" height="15" fill="#008000"/>
<rect x="544" y="521" width="4" height="17" fill="#008000"/>
<rect x="552" y="520" width="4" height="18" fill="#008000"/>
<rect x="560" y="519" width="4" height="19" fill="#008000"/>
<rect x="568" y="520" width="4" height="18" fill="#ff0000"/>
<rect x="576" y="523" width="4" height="15" fill="#ff0000"/>
<rect x="584" y="524" width="4" height="14" fill="#ff0000"/>
<rect x="592" y="524" width="4" height="14" fill="#008000"/>
<rect x="600" y="523" width="4" height="15" fill="#008000"/>
<rect x="608" y="523" width="4" height="15" fill="#008000"/>
<rect x="616" y="522" width="4" height="16" fill="#008000"/>
<rect x="624" y="521" width="4" height="17" fill="#008000"/>
<rect x="632" y="521" width="4" height="17" fill="#008000"/>
<rect x="640" y="521" width="4" height="17" fill="#008000"/>
<rect x="648" y="522" width="4" height="16" fill="#ff0000"/>
<rect x="656" y="523" width="4" height="15" fill="#ff0000"/>
<rect x="664" y="523" width="4" height="15" fill="#ff0000"/>
<rect x="672" y="524" width="4" height="14" fill="#ff0000"/>
<rect x="680" y="525" width="4" height="13" fill="#ff0000"/>
<rect x="688" y="525" width="4" height="13" fill="#008000"/>
<rect x="696" y="525" width="4" height="13" fill="#ff0000"/>
<rect x="704" y="527" width="4" height="11" fill="#ff0000"/>
<rect x="712" y="529" width="4" height="9" fill="#ff0000"/>
<rect x="720" y="534" width="4" height="4" fill="#ff0000"/>
<rect x="731" y="538" width="1" height="1" fill="#ff0000"/>
<rect x="736" y="538" width="4" height="4" fill="#ff0000"/>
<rect x="744" y="538" width="4" height="7" fill="#ff0000"/>
<rect x="752" y="538" width="4" height="11" fill="#ff0000"/>
<rect x="760" y="538" width="4" height="8" fill="#008000"/>
<rect x="768" y="538" width="4" height="5" fill="#008000"/>
<rect x="776" y="538" width="4" height="3" fill="#008000"/>
<rect x="784" y="536" width="4" height="2" fill="#008000"/>
<rect x="792" y="535" width="4" height="3" fill="#008000"/>
<rect x="800" y="536" width="4" height="2" fill="#ff0000"/>
<rect x="808" y="537" width="4" height="1" fill="#ff0000"/>
<rect x="816" y="538" width="4" height="2" fill="#ff0000"/>
<rect x="824" y="538" width="4" height="6" fill="#ff0000"/>
<rect x="832" y="538" width="4" height="7" fill="#ff0000"/>
<rect x="840" y="538" width="4" height="9" fill="#ff0000"/>
<rect x="848" y="538" width="4" height="9" fill="#008000"/>
<rect x="856" y="538" width="4" height="11" fill="#ff0000"/>
<rect x="864" y="538" width="4" height="15" fill="#ff0000"/>
<rect x="872" y="538" width="4" height="17" fill="#ff0000"/>
<rect x="880" y="538" width="4" height="19" fill="#ff0000"/>
<rect x="888" y="538" width="4" height="22" fill="#ff0000"/>
<rect x="896" y="538" width="4" height="23" fill="#ff0000"/>
<rect x="904" y="538" width="4" height="22" fill="#008000"/>
<rect x="912" y="538" width="4" height="26" fill="#ff0000"/>
<rect x="920" y="538" width="4" height="28" fill="#ff0000"/>
<rect x="928" y="538" width="4" height="27" fill="#008000"/>
<rect x="936" y="538" width="4" height="26" fill="#008000"/>
<rect x="944" y="538" width="4" height="23" fill="#008000"/>
<rect x="952" y="538" width="4" height="17" fill="#008000"/>
<rect x="960" y="538" width="4" height="12" fill="#008000"/>
<rect x="968" y="538" width="4" height="10" fill="#008000"/>
<rect x="976" y="538" width="4" height="8" fill="#008000"/>
<rect x="984" y="538" width="4" height="7" fill="#008000"/>
<rect x="992" y="538" width="4" height="7" fill="#008000"/>
<rect x="1000" y="538" width="4" height="7" fill="#008000"/>
<rect x="1008" y="538" width="4" height="6" fill="#008000"/>
<rect x="1016" y="538" width="4" height="5" fill="#008000"/>
<rect x="1024" y="538" width="4" height="5" fill="#008000"/>
<rect x="1032" y="538" width="4" height="3" fill="#008000"/>
<rect x="1043" y="538" width="1" height="1" fill="#008000"/>
<rect x="1048" y="538" width="4" height="1" fill="#ff0000"/>
<rect x="1056" y="538" width="4" height="2" fill="#ff0000"/>
<rect x="1064" y="538" width="4" height="3" fill="#ff0000"/>
<rect x="1072" y="538" width="4" height="8" fill="#ff0000"/>
<rect x="1080" y="538" width="4" height="15" fill="#ff0000"/>
<rect x="1088" y="538" width="4" height="18" fill="#ff0000"/>
<rect x="1096" y="538" width="4" height="17" fill="#008000"/>
<rect x="1104" y="538" width="4" height="19" fill="#ff0000"/>
<rect x="3" y="586" width="1" height="45" fill="#ff0000"/>
<rect x="8" y="594" width="4" height="37" fill="#ff0000"/>
<rect x="16" y="604" width="4" height="27" fill="#ff0000"/>
<rect x="24" y="613" width="4" height="18" fill="#ff0000"/>
<rect x="32" y="623" width="4" height="8" fill="#ff0000"/>
<rect x="40" y="627" width="4" height="4" fill="#ff0000"/>
<rect x="48" y="627" width="4" height="4" fill="#ff0000"/>
<rect x="56" y="629" width="4" height="2" fill="#ff0000"/>
<rect x="64" y="631" width="4" height="1" fill="#ff0000"/>
<rect x="72" y="631" width="4" height="2" fill="#ff0000"/>
<rect x="80" y="631" width="4" height="2" fill="#ff0000"/>
<rect x="88" y="631" width="4" height="3" fill="#ff0000"/>
<rect x="96" y="631" width="4" height="4" fill="#ff0000"/>
<rect x="104" y="631" width="4" height="3" fill="#008000"/>
<rect x="112" y="631" width="4" height="4" fill="#ff0000"/>
<rect x="120" y="631" width="4" height="7" fill="#ff0000"/>
<rect x="128" y="629" width="4" height="2" fill="#008000"/>
<rect x="136" y="617" width="4" height="14" fill="#008000"/>
<rect x="144" y="609" width="4" height="22" fill="#008000"/>
<rect x="152" y="604" width="4" height="27" fill="#008000"/>
<rect x="160" y="601" width="4" height="30" fill="#008000"/>
<rect x="168" y="608" width="4" height="23" fill="#ff0000"/>
<rect x="176" y="619" width="4" height="12" fill="#ff0000"/>
<rect x="184" y="629" width="4" height="2" fill="#ff0000"/>
<rect x="192" y="631" width="4" height="10" fill="#ff0000"/>
<rect x="200" y="629" width="4" height="2" fill="#008000"/>
<rect x="208" y="619" width="4" height="12" fill="#008000"/>
<rect x="216" y="613" width="4" height="18" fill="#008000"/>
<rect x="224" y="606" width="4" height="25" fill="#008000"/>
<rect x="232" y="598" width="4" height="33" fill="#008000"/>
<rect x="240" y="616" width="4" height="15" fill="#ff0000"/>
<rect x="248" y="628" width="4" height="3" fill="#ff0000"/>
<rect x="256" y="631" width="4" height="4" fill="#ff0000"/>
<rect x="264" y="631" width="4" height="6" fill="#ff0000"/>
<rect x="272" y="631" width="4" height="9" fill="#ff0000"/>
<rect x="280" y="631" width="4" height="12" fill="#ff0000"/>
<rect x="288" y="631" width="4" height="14" fill="#ff0000"/>
<rect x="296" y="631" width="4" height="18" fill="#ff0000"/>
<rect x="304" y="631" width="4" height="21" fill="#ff0000"/>
<rect x="312" y="631" width="4" height="20" fill="#008000"/>
<rect x="320" y="631" width="4" height="19" fill="#008000"/>
<rect x="328" y="631" width="4" height="18" fill="#008000"/>
<rect x="336" y="631" width="4" height="14" fill="#008000"/>
<rect x="344" y="631" width="4" height="11" fill="#008000"/>
<rect x="352" y="631" width="4" height="7" fill="#008000"/>
<rect x="360" y="631" width="4" height="3" fill="#008000"/>
<rect x="368" y="628" width="4" height="3" fill="#008000"/>
<rect x="376" y="627" width="4" height="4" fill="#008000"/>
<rect x="384" y="626" width="4" height="5" fill="#008000"/>
<rect x="392" y="629" width="4" height="2" fill="#ff0000"/>
<rect x="400" y="631" width="4" height="4" fill="#ff0000"/>
<rect x="408" y="631" width="4" height="12" fill="#ff0000"/>
<rect x="416" y="631" width="4" height="18" fill="#ff0000"/>
<rect x="424" y="631" width="4" height="22" fill="#ff0000"/>
<rect x="432" y="631" width="4" height="22" fill="#ff0000"/>
<rect x="440" y="631" width="4" height="20" fill="#008000"/>
<rect x="448" y="631" width="4" height="18" fill="#008000"/>
<rect x="456" y="631" width="4" height="17" fill="#008000"/>
<rect x="464" y="631" width="4" height="17" fill="#008000"/>
<rect x="472" y="631" width="4" height="11" fill="#008000"/>
<rect x="480" y="631" width="4" height="7" fill="#008000"/>
<rect x="491" y="631" width="1" height="1" fill="#008000"/>
<rect x="496" y="628" width="4" height="3" fill="#008000"/>
<rect x="504" y="627" width="4" height="4" fill="#008000"/>
<rect x="512" y="629" width="4" height="2" fill="#ff0000"/>
<rect x="520" y="629" width="4" height="2" fill="#008000"/>
<rect x="528" y="626" width="4" height="5" fill="#008000"/>
<rect x="536" y="622" width="4" height="9" fill="#008000"/>
<rect x="544" y="618" width="4" height="13" fill="#008000"/>
<rect x="552" y="618" width="4" height="13" fill="#ff0000"/>
<rect x="560" y="622" width="4" height="9" fill="#ff0000"/>
<rect x="568" y="630" width="4" height="1" fill="#ff0000"/>
<rect x="576" y="631" width="4" height="8" fill="#ff0000"/>
<rect x="584" y="631" width="4" height="13" fill="#ff0000"/>
<rect x="592" y="631" width="4" height="6" fill="#008000"/>
<rect x="600" y="631" width="4" height="2" fill="#008000"/>
<rect x="608" y="629" width="4" height="2" fill="#008000"/>
<rect x="616" y="627" width="4" height="4" fill="#008000"/>
<rect x="624" y="626" width="4" height="5" fill="#008000"/>
<rect x="632" y="627" width="4" height="4" fill="#ff0000"/>
<rect x="640" y="628" width="4" height="3" fill="#ff0000"/>
<rect x="648" y="631" width="4" height="2" fill="#ff0000"/>
<rect x="656" y="631" width="4" height="4" fill="#ff0000"/>
<rect x="664" y="631" width="4" height="5" fill="#ff0000"/>
<rect x="672" y="631" width="4" height="7" fill="#ff0000"/>
<rect x="680" y="631" width="4" height="6" fill="#008000"/>
<rect x="688" y="631" width="4" height="2" fill="#008000"/>
<rect x="696" y="631" width="4" height="3" fill="#ff0000"/>
<rect x="704" y="631" width="4" height="8" fill="#ff0000"/>
<rect x="712" y="631" width="4" height="11" fill="#ff0000"/>
<rect x="720" y="631" width="4" height="24" fill="#ff0000"/>
<rect x="728" y="631" width="4" height="33" fill="#ff0000"/>
<rect x="736" y="631" width="4" height="30" fill="#008000"/>
<rect x="744" y="631" width="4" height="31" fill="#ff0000"/>
<rect x="752" y="631" width="4" height="28" fill="#008000"/>
<rect x="760" y="631" width="4" height="8" fill="#008000"/>
<rect x="768" y="623" width="4" height="8" fill="#008000"/>
<rect x="776" y="615" width="4" height="16" fill="#008000"/>
<rect x="784" y="603" width="4" height="28" fill="#008000"/>
<rect x="792" y="609" width="4" height="22" fill="#ff0000"/>
<rect x="800" y="621" width="4" height="10" fill="#ff0000"/>
<rect x="808" y="631" width="4" height="1" fill="#ff0000"/>
<rect x="816" y="631" width="4" height="13" fill="#ff0000"/>
<rect x="824" y="631" width="4" height="23" fill="#ff0000"/>
<rect x="832" y="631" width="4" height="20" fill="#008000"/>
<rect x="840" y="631" width="4" height="17" fill="#008000"/>
<rect x="848" y="631" width="4" height="9" fill="#008000"/>
<rect x="856" y="631" width="4" height="9" fill="#ff0000"/>
<rect x="864" y="631" width="4" height="19" fill="#ff0000"/>
<rect x="872" y="631" width="4" height="19" fill="#008000"/>
<rect x="880" y="631" width="4" height="18" fill="#008000"/>
<rect x="888" y="631" width="4" height="21" fill="#ff0000"/>
<rect x="896" y="631" width="4" height="16" fill="#008000"/>
<rect x="904" y="631" width="4" height="7" fill="#008000"/>
<rect x="912" y="631" width="4" height="15" fill="#ff0000"/>
<rect x="920" y="631" width="4" height="16" fill="#ff0000"/>
<rect x="928" y="631" width="4" height="8" fill="#008000"/>
<rect x="939" y="631" width="1" height="1" fill="#008000"/>
<rect x="944" y="620" width="4" height="11" fill="#008000"/>
<rect x="952" y="600" width="4" height="31" fill="#008000"/>
<rect x="960" y="593" width="4" height="38" fill="#008000"/>
<rect x="968" y="602" width="4" height="29" fill="#ff0000"/>
<rect x="976" y="608" width="4" height="23" fill="#ff0000"/>
<rect x="984" y="616" width="4" height="15" fill="#ff0000"/>
<rect x="992" y="624" width="4" height="7" fill="#ff0000"/>
<rect x="1000" y="626" width="4" height="5" fill="#ff0000"/>
<rect x="1008" y="625" width="4" height="6" fill="#008000"/>
<rect x="1016" y="626" width="4" height="5" fill="#ff0000"/>
<rect x="1024" y="627" width="4" height="4" fill="#ff0000"/>
<rect x="1032" y="624" width="4" height="7" fill="#008000"/>
<rect x="1040" y="620" width="4" height="11" fill="#008000"/>
<rect x="1048" y="624" width="4" height="7" fill="#ff0000"/>
<rect x="1056" y="630" width="4" height="1" fill="#ff0000"/>
<rect x="1064" y="631" width="4" height="4" fill="#ff0000"/>
<rect x="1072" y="631" width="4" height="19" fill="#ff0000"/>
<rect x="1080" y="631" width="4" height="37" fill="#ff0000"/>
<rect x="1088" y="631" width="4" height="34" fill="#008000"/>
<rect x="1096" y="631" width="4" height="19" fill="#008000"/>
<rect x="1104" y="631" width="4" height="13" fill="#008000"/>
<rect x="3" y="728" width="1" height="4" fill="#ff0000"/>
<rect x="3" y="732" width="1" height="10" fill="#008000"/>
<rect x="8" y="732" width="4" height="15" fill="#008000"/>
<rect x="16" y="729" width="4" height="3" fill="#008000"/>
<rect x="16" y="732" width="4" height="19" fill="#008000"/>
<rect x="24" y="725" width="4" height="7" fill="#008000"/>
<rect x="24" y="732" width="4" height="20" fill="#008000"/>
<rect x="32" y="720" width="4" height="12" fill="#008000"/>
<rect x="32" y="732" width="4" height="18" fill="#ff0000"/>
<rect x="40" y="718" width="4" height="14" fill="#008000"/>
<rect x="40" y="732" width="4" height="17" fill="#ff0000"/>
<rect x="48" y="718" width="4" height="14" fill="#008000"/>
<rect x="48" y="732" width="4" height="18" fill="#008000"/>
<rect x="56" y="717" width="4" height="15" fill="#008000"/>
<rect x="56" y="732" width="4" height="16" fill="#ff0000"/>
<rect x="64" y="717" width="4" height="15" fill="#008000"/>
<rect x="64" y="732" width="4" height="16" fill="#ff0000"/>
<rect x="72" y="717" width="4" height="15" fill="#008000"/>
<rect x="72" y="732" width="4" height="16" fill="#ff0000"/>
<rect x="80" y="716" width="4" height="16" fill="#008000"/>
<rect x="80" y="732" width="4" height="15" fill="#ff0000"/>
<rect x="88" y="716" width="4" height="16" fill="#008000"/>
<rect x="88" y="732" width="4" height="15" fill="#ff0000"/>
<rect x="96" y="716" width="4" height="16" fill="#008000"/>
<rect x="96" y="732" width="4" height="15" fill="#ff0000"/>
<rect x="104" y="715" width="4" height="17" fill="#008000"/>
<rect x="104" y="732" width="4" height="16" fill="#008000"/>
<rect x="112" y="715" width="4" height="17" fill="#008000"/>
<rect x="112" y="732" width="4" height="15" fill="#ff0000"/>
<rect x="120" y="714" width="4" height="18" fill="#008000"/>
<rect x="120" y="732" width="4" height="12" fill="#ff0000"/>
<rect x="128" y="714" width="4" height="18" fill="#008000"/>
<rect x="128" y="732" width="4" height="12" fill="#ff0000"/>
<rect x="136" y="715" width="4" height="17" fill="#ff0000"/>
<rect x="136" y="732" width="4" height="13" fill="#008000"/>
<rect x="144" y="715" width="4" height="17" fill="#ff0000"/>
<rect x="144" y="732" width="4" height="12" fill="#ff0000"/>
<rect x="152" y="715" width="4" height="17" fill="#ff0000"/>
<rect x="152" y="732" width="4" height="17" fill="#008000"/>
<rect x="160" y="715" width="4" height="17" fill="#008000"/>
<rect x="160" y="732" width="4" height="23" fill="#008000"/>
<rect x="168" y="712" width="4" height="20" fill="#008000"/>
<rect x="168" y="732" width="4" height="25" fill="#008000"/>
<rect x="176" y="708" width="4" height="24" fill="#008000"/>
<rect x="176" y="732" width="4" height="26" fill="#008000"/>
<rect x="184" y="705" width="4" height="27" fill="#008000"/>
<rect x="184" y="732" width="4" height="27" fill="#008000"/>
<rect x="192" y="703" width="4" height="29" fill="#008000"/>
<rect x="192" y="732" width="4" height="27" fill="#008000"/>
<rect x="200" y="701" width="4" height="31" fill="#008000"/>
<rect x="200" y="732" width="4" height="25" fill="#ff0000"/>
<rect x="208" y="700" width="4" height="32" fill="#008000"/>
<rect x="208" y="732" width="4" height="23" fill="#ff0000"/>
<rect x="216" y="700" width="4" height="32" fill="#008000"/>
<rect x="216" y="732" width="4" height="18" fill="#ff0000"/>
<rect x="224" y="702" width="4" height="30" fill="#ff0000"/>
<rect x="224" y="732" width="4" height="29" fill="#008000"/>
<rect x="232" y="704" width="4" height="28" fill="#ff0000"/>
<rect x="232" y="732" width="4" height="38" fill="#008000"/>
<rect x="240" y="698" width="4" height="34" fill="#008000"/>
<rect x="240" y="732" width="4" height="37" fill="#ff0000"/>
<rect x="248" y="693" width="4" height="39" fill="#008000"/>
<rect x="248" y="732" width="4" height="35" fill="#ff0000"/>
<rect x="256" y="688" width="4" height="44" fill="#008000"/>
<rect x="256" y="732" width="4" height="34" fill="#ff0000"/>
<rect x="264" y="689" width="4" height="43" fill="#ff0000"/>
<rect x="264" y="732" width="4" height="34" fill="#ff0000"/>
<rect x="272" y="689" width="4" height="43" fill="#ff0000"/>
<rect x="272" y="732" width="4" height="32" fill="#ff0000"/>
<rect x="280" y="689" width="4" height="43" fill="#ff0000"/>
<rect x="280" y="732" width="4" height="32" fill="#ff0000"/>
<rect x="288" y="689" width="4" height="43" fill="#008000"/>
<rect x="288" y="732" width="4" height="30" fill="#ff0000"/>
<rect x="296" y="689" width="4" height="43" fill="#ff0000"/>
<rect x="296" y="732" width="4" height="27" fill="#ff0000"/>
<rect x="304" y="689" width="4" height="43" fill="#ff0000"/>
<rect x="304" y="732" width="4" height="24" fill="#ff0000"/>
<rect x="312" y="691" width="4" height="41" fill="#ff0000"/>
<rect x="312" y="732" width="4" height="23" fill="#ff0000"/>
<rect x="320" y="693" width="4" height="39" fill="#ff0000"/>
<rect x="320" y="732" width="4" height="21" fill="#ff0000"/>
<rect x="328" y="695" width="4" height="37" fill="#ff0000"/>
<rect x="328" y="732" width="4" height="18" fill="#ff0000"/>
<rect x="336" y="696" width="4" height="36" fill="#ff0000"/>
<rect x="336" y="732" width="4" height="16" fill="#ff0000"/>
<rect x="344" y="698" width="4" height="34" fill="#ff0000"/>
<rect x="344" y="732" width="4" height="15" fill="#ff0000"/>
<rect x="352" y="700" width="4" height="32" fill="#ff0000"/>
<rect x="352" y="732" width="4" height="15" fill="#ff0000"/>
<rect x="360" y="702" width="4" height="30" fill="#ff0000"/>
<rect x="360" y="732" width="4" height="15" fill="#008000"/>
<rect x="368" y="703" width="4" height="29" fill="#ff0000"/>
<rect x="368" y="732" width="4" height="15" fill="#ff0000"/>
<rect x="376" y="703" width="4" height="29" fill="#ff0000"/>
<rect x="376" y="732" width="4" height="15" fill="#ff0000"/>
<rect x="384" y="703" width="4" height="29" fill="#ff0000"/>
<rect x="384" y="732" width="4" height="17" fill="#008000"/>
<rect x="392" y="704" width="4" height="28" fill="#ff0000"/>
<rect x="392" y="732" width="4" height="20" fill="#008000"/>
<rect x="400" y="703" width="4" height="29" fill="#008000"/>
<rect x="400" y="732" width="4" height="21" fill="#008000"/>
<rect x="408" y="701" width="4" height="31" fill="#008000"/>
<rect x="408" y="732" width="4" height="21" fill="#ff0000"/>
<rect x="416" y="700" width="4" height="32" fill="#008000"/>
<rect x="416" y="732" width="4" height="19" fill="#ff0000"/>
<rect x="424" y="700" width="4" height="32" fill="#008000"/>
<rect x="424" y="732" width="4" height="16" fill="#ff0000"/>
<rect x="432" y="701" width="4" height="31" fill="#ff0000"/>
<rect x="432" y="732" width="4" height="14" fill="#ff0000"/>
<rect x="440" y="703" width="4" height="29" fill="#ff0000"/>
<rect x="440" y="732" width="4" height="12" fill="#ff0000"/>
<rect x="448" y="705" width="4" height="27" fill="#ff0000"/>
<rect x="448" y="732" width="4" height="11" fill="#ff0000"/>
<rect x="456" y="707" width="4" height="25" fill="#ff0000"/>
<rect x="456" y="732" width="4" height="9" fill="#ff0000"/>
<rect x="464" y="709" width="4" height="23" fill="#ff0000"/>
<rect x="464" y="732" width="4" height="8" fill="#ff0000"/>
<rect x="472" y="710" width="4" height="22" fill="#ff0000"/>
<rect x="472" y="732" width="4" height="7" fill="#ff0000"/>
<rect x="480" y="712" width="4" height="20" fill="#ff0000"/>
<rect x="480" y="732" width="4" height="6" fill="#ff0000"/>
<rect x="488" y="713" width="4" height="19" fill="#ff0000"/>
<rect x="488" y="732" width="4" height="5" fill="#ff0000"/>
<rect x="496" y="715" width="4" height="17" fill="#ff0000"/>
<rect x="496" y="732" width="4" height="6" fill="#008000"/>
<rect x="504" y="716" width="4" height="16" fill="#ff0000"/>
<rect x="504" y="732" width="4" height="6" fill="#008000"/>
<rect x="512" y="716" width="4" height="16" fill="#ff0000"/>
<rect x="512" y="732" width="4" height="8" fill="#008000"/>
<rect x="520" y="717" width="4" height="15" fill="#ff0000"/>
<rect x="520" y="732" width="4" height="9" fill="#008000"/>
<rect x="528" y="716" width="4" height="16" fill="#008000"/>
<rect x="528" y="732" width="4" height="8" fill="#ff0000"/>
<rect x="536" y="715" width="4" height="17" fill="#008000"/>
<rect x="536" y="732" width="4" height="6" fill="#ff0000"/>
<rect x="544" y="716" width="4" height="16" fill="#ff0000"/>
<rect x="544" y="732" width="4" height="7" fill="#008000"/>
<rect x="552" y="718" width="4" height="14" fill="#ff0000"/>
<rect x="552" y="732" width="4" height="11" fill="#008000"/>
<rect x="560" y="718" width="4" height="14" fill="#ff0000"/>
<rect x="560" y="732" width="4" height="15" fill="#008000"/>
<rect x="568" y="716" width="4" height="16" fill="#008000"/>
<rect x="568" y="732" width="4" height="16" fill="#008000"/>
<rect x="576" y="713" width="4" height="19" fill="#008000"/>
<rect x="576" y="732" width="4" height="12" fill="#ff0000"/>
<rect x="584" y="711" width="4" height="21" fill="#008000"/>
<rect x="584" y="732" width="4" height="10" fill="#ff0000"/>
<rect x="592" y="713" width="4" height="19" fill="#ff0000"/>
<rect x="592" y="732" width="4" height="10" fill="#ff0000"/>
<rect x="600" y="714" width="4" height="18" fill="#ff0000"/>
<rect x="600" y="732" width="4" height="9" fill="#ff0000"/>
<rect x="608" y="716" width="4" height="16" fill="#ff0000"/>
<rect x="608" y="732" width="4" height="9" fill="#008000"/>
<rect x="616" y="716" width="4" height="16" fill="#ff0000"/>
<rect x="616" y="732" width="4" height="11" fill="#008000"/>
<rect x="624" y="717" width="4" height="15" fill="#ff0000"/>
<rect x="624" y="732" width="4" height="12" fill="#008000"/>
<rect x="632" y="716" width="4" height="16" fill="#008000"/>
<rect x="632" y="732" width="4" height="11" fill="#ff0000"/>
<rect x="640" y="715" width="4" height="17" fill="#008000"/>
<rect x="640" y="732" width="4" height="11" fill="#008000"/>
<rect x="648" y="715" width="4" height="17" fill="#008000"/>
<rect x="648" y="732" width="4" height="12" fill="#008000"/>
<rect x="656" y="715" width="4" height="17" fill="#ff0000"/>
<rect x="656" y="732" width="4" height="12" fill="#ff0000"/>
<rect x="664" y="715" width="4" height="17" fill="#008000"/>
<rect x="664" y="732" width="4" height="11" fill="#ff0000"/>
<rect x="672" y="715" width="4" height="17" fill="#008000"/>
<rect x="672" y="732" width="4" height="8" fill="#ff0000"/>
<rect x="680" y="715" width="4" height="17" fill="#ff0000"/>
<rect x="680" y="732" width="4" height="6" fill="#ff0000"/>
<rect x="688" y="717" width="4" height="15" fill="#ff0000"/>
<rect x="688" y="732" width="4" height="8" fill="#008000"/>
<rect x="696" y="718" width="4" height="14" fill="#ff0000"/>
<rect x="696" y="732" width="4" height="8" fill="#008000"/>
<rect x="704" y="719" width="4" height="13" fill="#ff0000"/>
<rect x="704" y="732" width="4" height="8" fill="#ff0000"/>
<rect x="712" y="719" width="4" height="13" fill="#008000"/>
<rect x="712" y="732" width="4" height="7" fill="#ff0000"/>
<rect x="720" y="718" width="4" height="14" fill="#008000"/>
<rect x="720" y="732" width="4" height="5" fill="#ff0000"/>
<rect x="728" y="719" width="4" height="13" fill="#ff0000"/>
<rect x="728" y="732" width="4" height="3" fill="#ff0000"/>
<rect x="736" y="721" width="4" height="11" fill="#ff0000"/>
<rect x="736" y="732" width="4" height="2" fill="#ff0000"/>
<rect x="744" y="723" width="4" height="9" fill="#ff0000"/>
<rect x="744" y="732" width="4" height="6" fill="#008000"/>
<rect x="752" y="724" width="4" height="8" fill="#ff0000"/>
<rect x="752" y="732" width="4" height="12" fill="#008000"/>
<rect x="760" y="729" width="4" height="3" fill="#ff0000"/>
<rect x="760" y="732" width="4" height="9" fill="#ff0000"/>
<rect x="768" y="731" width="4" height="1" fill="#ff0000"/>
<rect x="768" y="732" width="4" height="9" fill="#008000"/>
<rect x="776" y="730" width="4" height="2" fill="#008000"/>
<rect x="776" y="732" width="4" height="10" fill="#008000"/>
<rect x="784" y="729" width="4" height="3" fill="#008000"/>
<rect x="784" y="732" width="4" height="5" fill="#ff0000"/>
<rect x="792" y="729" width="4" height="3" fill="#ff0000"/>
<rect x="792" y="732" width="4" height="1" fill="#ff0000"/>
<rect x="800" y="730" width="4" height="2" fill="#ff0000"/>
<rect x="800" y="732" width="4" height="4" fill="#008000"/>
<rect x="808" y="732" width="4" height="8" fill="#008000"/>
<rect x="816" y="728" width="4" height="4" fill="#008000"/>
<rect x="816" y="732" width="4" height="3" fill="#ff0000"/>
<rect x="824" y="725" width="4" height="7" fill="#008000"/>
<rect x="824" y="732" width="4" height="3" fill="#ff0000"/>
<rect x="832" y="727" width="4" height="5" fill="#ff0000"/>
<rect x="832" y="732" width="4" height="3" fill="#008000"/>
<rect x="840" y="730" width="4" height="2" fill="#ff0000"/>
<rect x="840" y="732" width="4" height="4" fill="#008000"/>
<rect x="848" y="732" width="4" height="4" fill="#008000"/>
<rect x="856" y="731" width="4" height="1" fill="#008000"/>
<rect x="856" y="732" width="4" height="6" fill="#008000"/>
<rect x="864" y="730" width="4" height="2" fill="#008000"/>
<rect x="864" y="732" width="4" height="8" fill="#008000"/>
<rect x="872" y="729" width="4" height="3" fill="#008000"/>
<rect x="872" y="732" width="4" height="6" fill="#ff0000"/>
<rect x="880" y="727" width="4" height="5" fill="#008000"/>
<rect x="880" y="732" width="4" height="8" fill="#008000"/>
<rect x="888" y="728" width="4" height="4" fill="#ff0000"/>
<rect x="888" y="732" width="4" height="16" fill="#008000"/>
<rect x="896" y="726" width="4" height="6" fill="#008000"/>
<rect x="896" y="732" width="4" height="17" fill="#008000"/>
<rect x="904" y="721" width="4" height="11" fill="#008000"/>
<rect x="904" y="732" width="4" height="15" fill="#ff0000"/>
<rect x="912" y="718" width="4" height="14" fill="#008000"/>
<rect x="912" y="732" width="4" height="15" fill="#008000"/>
<rect x="920" y="717" width="4" height="15" fill="#008000"/>
<rect x="920" y="732" width="4" height="16" fill="#008000"/>
<rect x="928" y="718" width="4" height="14" fill="#ff0000"/>
<rect x="928" y="732" width="4" height="17" fill="#008000"/>
<rect x="936" y="717" width="4" height="15" fill="#008000"/>
<rect x="936" y="732" width="4" height="24" fill="#008000"/>
<rect x="944" y="715" width="4" height="17" fill="#008000"/>
<rect x="944" y="732" width="4" height="25" fill="#008000"/>
<rect x="952" y="710" width="4" height="22" fill="#008000"/>
<rect x="952" y="732" width="4" height="16" fill="#ff0000"/>
<rect x="960" y="708" width="4" height="24" fill="#008000"/>
<rect x="960" y="732" width="4" height="10" fill="#ff0000"/>
<rect x="968" y="711" width="4" height="21" fill="#ff0000"/>
<rect x="968" y="732" width="4" height="8" fill="#ff0000"/>
<rect x="976" y="715" width="4" height="17" fill="#ff0000"/>
<rect x="976" y="732" width="4" height="5" fill="#ff0000"/>
<rect x="984" y="719" width="4" height="13" fill="#ff0000"/>
<rect x="984" y="732" width="4" height="3" fill="#ff0000"/>
<rect x="992" y="721" width="4" height="11" fill="#ff0000"/>
<rect x="992" y="732" width="4" height="3" fill="#ff0000"/>
<rect x="1000" y="723" width="4" height="9" fill="#ff0000"/>
<rect x="1000" y="732" width="4" height="2" fill="#ff0000"/>
<rect x="1008" y="723" width="4" height="9" fill="#ff0000"/>
<rect x="1008" y="732" width="4" height="1" fill="#ff0000"/>
<rect x="1016" y="725" width="4" height="7" fill="#ff0000"/>
<rect x="1016" y="732" width="4" height="2" fill="#008000"/>
<rect x="1024" y="725" width="4" height="7" fill="#ff0000"/>
<rect x="1024" y="732" width="4" height="1" fill="#ff0000"/>
<rect x="1032" y="726" width="4" height="6" fill="#ff0000"/>
<rect x="1032" y="732" width="4" height="1" fill="#008000"/>
<rect x="1040" y="726" width="4" height="6" fill="#ff0000"/>
<rect x="1040" y="732" width="4" height="2" fill="#008000"/>
<rect x="1048" y="727" width="4" height="5" fill="#ff0000"/>
<rect x="1048" y="732" width="4" height="1" fill="#ff0000"/>
<rect x="1056" y="728" width="4" height="4" fill="#ff0000"/>
<rect x="1056" y="732" width="4" height="1" fill="#008000"/>
<rect x="1064" y="728" width="4" height="4" fill="#008000"/>
<rect x="1064" y="732" width="4" height="5" fill="#008000"/>
<rect x="1072" y="729" width="4" height="3" fill="#ff0000"/>
<rect x="1072" y="732" width="4" height="1" fill="#ff0000"/>
<rect x="1080" y="731" width="4" height="1" fill="#ff0000"/>
<rect x="1080" y="732" width="4" height="5" fill="#008000"/>
<rect x="1088" y="730" width="4" height="2" fill="#008000"/>
<rect x="1088" y="732" width="4" height="7" fill="#008000"/>
<rect x="1096" y="728" width="4" height="4" fill="#008000"/>
<rect x="1096" y="732" width="4" height="13" fill="#008000"/>
<rect x="1104" y="725" width="4" height="7" fill="#008000"/>
<rect x="1104" y="732" width="4" height="21" fill="#008000"/>
<rect x="1112" y="720" width="4" height="12" fill="#008000"/>
<rect x="1112" y="732" width="4" height="19" fill="#ff0000"/>
<rect x="1120" y="715" width="4" height="17" fill="#008000"/>
<rect x="1120" y="732" width="4" height="10" fill="#ff0000"/>
<rect x="1128" y="713" width="4" height="19" fill="#008000"/>
<rect x="1128" y="732" width="4" height="10" fill="#ff0000"/>
<rect x="1136" y="717" width="4" height="15" fill="#ff0000"/>
<rect x="1144" y="719" width="4" height="13" fill="#ff0000"/>
</g>
<g shape-rendering="crispEdges" stroke="#e1e1e1" stroke-width="1" stroke-dasharray="3 3" fill="none">
<path d="M3 538.5H1227" stroke-dashoffset="1"/>
<path d="M3 631.5H1227" stroke-dashoffset="1"/>
<path d="M3 732.5H1227" stroke-dashoffset="1"/>
</g>
<g shape-rendering="crispEdges" fill="#000">
<rect x="2" y="2" width="1226" height="1"/>
<rect x="2" y="473" width="1226" height="1"/>
<rect x="2" y="2" width="1" height="472"/>
<rect x="2" y="475" width="1226" height="1"/>
<rect x="2" y="575" width="1226" height="1"/>
<rect x="2" y="475" width="1" height="101"/>
<rect x="2" y="577" width="1226" height="1"/>
<rect x="2" y="677" width="1226" height="1"/>
<rect x="2" y="577" width="1" height="101"/>
<rect x="2" y="679" width="1226" height="1"/>
<rect x="2" y="779" width="1226" height="1"/>
<rect x="2" y="679" width="1" height="101"/>
<rect x="1227" y="2" width="1" height="778"/>
<rect x="1228" y="24" width="4" height="1"/>
<rect x="1228" y="56" width="4" height="1"/>
<rect x="1228" y="88" width="4" height="1"/>
<rect x="1228" y="120" width="4" height="1"/>
<rect x="1228" y="152" width="4" height="1"/>
<rect x="1228" y="184" width="4" height="1"/>
<rect x="1228" y="216" width="4" height="1"/>
<rect x="1228" y="249" width="4" height="1"/>
<rect x="1228" y="281" width="4" height="1"/>
<rect x="1228" y="313" width="4" height="1"/>
<rect x="1228" y="345" width="4" height="1"/>
<rect x="1228" y="377" width="4" height="1"/>
<rect x="1228" y="409" width="4" height="1"/>
<rect x="1228" y="441" width="4" height="1"/>
<rect x="1228" y="476" width="4" height="1"/>
<rect x="1228" y="574" width="4" height="1"/>
<rect x="1228" y="578" width="4" height="1"/>
<rect x="1228" y="676" width="4" height="1"/>
<rect x="1228" y="680" width="4" height="1"/>
<rect x="1228" y="778" width="4" height="1"/>
<rect x="2" y="780" width="1" height="4"/>
<rect x="66" y="780" width="1" height="4"/>
<rect x="130" y="780" width="1" height="4"/>
<rect x="194" y="780" width="1" height="4"/>
<rect x="258" y="780" width="1" height="4"/>
<rect x="322" y="780" width="1" height="4"/>
<rect x="386" y="780" width="1" height="4"/>
<rect x="450" y="780" width="1" height="4"/>
<rect x="514" y="780" width="1" height="4"/>
<rect x="578" y="780" width="1" height="4"/>
<rect x="642" y="780" width="1" height="4"/>
<rect x="706" y="780" width="1" height="4"/>
<rect x="770" y="780" width="1" height="4"/>
<rect x="834" y="780" width="1" height="4"/>
<rect x="898" y="780" width="1" height="4"/>
<rect x="962" y="780" width="1" height="4"/>
<rect x="1026" y="780" width="1" height="4"/>
<rect x="1090" y="780" width="1" height="4"/>
</g>
<g>
<text transform="translate(1233 28) scale(1 1.09)">6920.80</text>
<text transform="translate(1233 60) scale(1 1.09)">6907.55</text>
<text transform="translate(1233 92) scale(1 1.09)">6894.30</text>
<text transform="translate(1233 124) scale(1 1.09)">6881.05</text>
<text transform="translate(1233 156) scale(1 1.09)">6867.80</text>
<text transform="translate(1233 188) scale(1 1.09)">6854.55</text>
<text transform="translate(1233 220) scale(1 1.09)">6841.30</text>
<text transform="translate(1233 253) scale(1 1.09)">6828.05</text>
<text transform="translate(1233 285) scale(1 1.09)">6814.80</text>
<text transform="translate(1233 317) scale(1 1.09)">6801.55</text>
<text transform="translate(1233 349) scale(1 1.09)">6788.30</text>
<text transform="translate(1233 381) scale(1 1.09)">6775.05</text>
<text transform="translate(1233 413) scale(1 1.09)">6761.80</text>
<text transform="translate(1233 445) scale(1 1.09)">6748.55</text>
<rect x="1230" y="206" width="39" height="11" fill="#c80000" shape-rendering="crispEdges"/>
<text transform="translate(1233 215) scale(1 1.09)" style="fill:#fff;stroke:#fff">6843.67</text>
<text transform="translate(1233 484) scale(1 1.09)">77.562</text>
<text transform="translate(1233 541) scale(1 1.09)">0.000</text>
<text transform="translate(1233 573) scale(1 1.09)">-46.176</text>
<text transform="translate(1233 586) scale(1 1.09)">16.6207</text>
<text transform="translate(1233 634) scale(1 1.09)">0.0000</text>
<text transform="translate(1233 675) scale(1 1.09)">-14.1570</text>
<text transform="translate(1233 688) scale(1 1.09)">37.216</text>
<text transform="translate(1233 735) scale(1 1.09)">0.000</text>
<text transform="translate(1233 777) scale(1 1.09)">-32.429</text>
<rect x="5" y="479" width="68" height="11" fill="#fff"/>
<text transform="translate(6 488) scale(1 1.09)">AOcust -23.312</text>
<rect x="5" y="581" width="66" height="11" fill="#fff"/>
<text transform="translate(6 590) scale(1 1.09)">ACcust -3.9442</text>
<rect x="5" y="683" width="100" height="11" fill="#fff"/>
<text transform="translate(6 692) scale(1 1.09)">GatorCust 9.525 -6.678</text>
<text transform="translate(2 792) scale(1 1.09)">23 Oct 2025</text>
<text transform="translate(66 792) scale(1 1.09)">24 Oct 07:00</text>
<text transform="translate(130 792) scale(1 1.09)">24 Oct 15:00</text>
<text transform="translate(194 792) scale(1 1.09)">24 Oct 23:00</text>
<text transform="translate(258 792) scale(1 1.09)">27 Oct 08:00</text>
<text transform="translate(322 792) scale(1 1.09)">27 Oct 16:00</text>
<text transform="translate(386 792) scale(1 1.09)">28 Oct 01:00</text>
<text transform="translate(450 792) scale(1 1.09)">28 Oct 09:00</text>
<text transform="translate(514 792) scale(1 1.09)">28 Oct 17:00</text>
<text transform="translate(578 792) scale(1 1.09)">29 Oct 02:00</text>
<text transform="translate(642 792) scale(1 1.09)">29 Oct 10:00</text>
<text transform="translate(706 792) scale(1 1.09)">29 Oct 18:00</text>
<text transform="translate(770 792) scale(1 1.09)">30 Oct 03:00</text>
<text transform="translate(834 792) scale(1 1.09)">30 Oct 11:00</text>
<text transform="translate(898 792) scale(1 1.09)">30 Oct 19:00</text>
<text transform="translate(962 792) scale(1 1.09)">31 Oct 04:00</text>
<text transform="translate(1026 792) scale(1 1.09)">31 Oct 12:00</text>
<text transform="translate(1090 792) scale(1 1.09)">31 Oct 20:00</text>
</g>
</svg></body></html>
